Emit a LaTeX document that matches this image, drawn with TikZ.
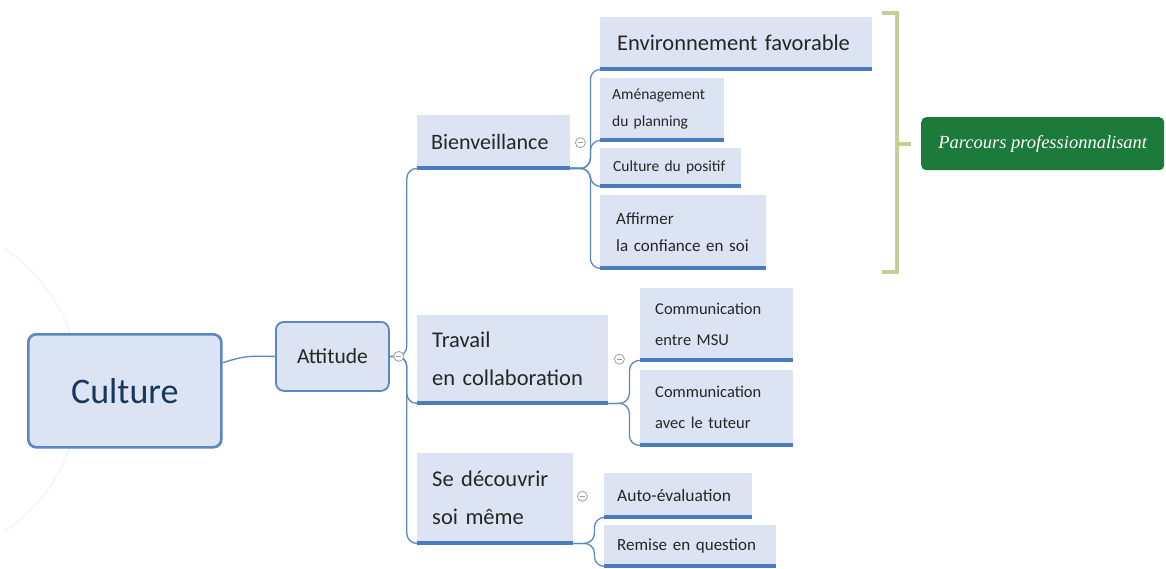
\documentclass[tikz,border=0pt]{standalone}
\usepackage{fontspec}
\setmainfont{Carlito}
\newfontfamily\notefont{Liberation Serif}
\definecolor{nodefill}{HTML}{DCE3F3}
\definecolor{boxedge}{HTML}{5A86C4}
\definecolor{ulblue}{HTML}{4A7CBD}
\definecolor{linkblue}{HTML}{5C88C2}
\definecolor{txt}{HTML}{262626}
\definecolor{titletxt}{HTML}{17375E}
\definecolor{notegreen}{HTML}{1C7A3A}
\definecolor{bracketcol}{HTML}{C6CE94}
\begin{document}
\begin{tikzpicture}[x=1pt,y=-1pt,
  box/.style={draw=boxedge, fill=nodefill, rounded corners=8pt, anchor=north west,
    inner sep=0pt, align=center, text=txt},
  topic/.style n args={3}{fill=nodefill, anchor=north west, inner ysep=0pt,
    inner xsep=#3pt, text width=#1pt-2*#3pt, minimum height=#2pt, align=left, text=txt},
  uline/.style={draw=ulblue, line width=4pt},
  conn/.style={draw=linkblue, line width=1.3pt, rounded corners=10pt},
  toggle/.style={circle, draw=gray!75, line width=0.8pt, minimum size=10pt, inner sep=0pt,
    fill=white, path picture={\draw[gray!75, line width=0.8pt]
      ([xshift=-2.5pt]path picture bounding box.center) -- ([xshift=2.5pt]path picture bounding box.center);}},
  bracket/.style={draw=bracketcol, line width=4.5pt},
  note/.style={fill=notegreen, rounded corners=5pt, anchor=north west, minimum width=243pt,
    minimum height=53pt, inner sep=0pt, text=white, font=\notefont\itshape\fontsize{18.5}{20}\selectfont}
]
\useasboundingbox (0,0) rectangle (1166,569);

% faint halo behind the central topic
\draw[gray!7, line width=2pt] (-90,390) ++(-56:170) arc[start angle=-56, end angle=56, radius=170];

% central topic and main branch
\node[box, line width=2.6pt, minimum width=193pt, minimum height=113pt, text=titletxt,
  font=\fontsize{36}{40}\selectfont] (cul) at (27,333) {Culture};
\node[box, line width=1.8pt, minimum width=113pt, minimum height=69pt,
  font=\fontsize{21.5}{24}\selectfont] (att) at (275,321) {Attitude};
\draw[conn] (cul.16) .. controls +(25,-8) and +(-25,0) .. (att.west);

% second level
\begin{scope}[font=\hyphenpenalty=10000\exhyphenpenalty=10000]
\node[topic={153}{53}{14}, font=\fontsize{22}{26}\selectfont] (bien) at (417,115) {Bienveillance};
\node[topic={191}{88}{15}, font=\fontsize{22.5}{38}\selectfont] (trav) at (417,315) {Travail\\en collaboration};
\node[topic={156}{90}{15}, font=\fontsize{22.5}{38}\selectfont] (se) at (417,453) {Se découvrir\\soi même};

% third level
\node[topic={272}{52}{17}, font=\fontsize{22.5}{26}\selectfont] (env) at (600,17) {Environnement favorable};
\node[topic={124}{62}{12}, font=\fontsize{15.5}{27}\selectfont] (amen) at (600,78) {Aménagement\\du planning};
\node[topic={141}{38}{13}, font=\fontsize{15.5}{18}\selectfont] (cpos) at (600,148) {Culture du positif};
\node[topic={166}{73}{16}, font=\fontsize{17}{27}\selectfont] (aff) at (600,195) {Affirmer\\\mbox{la confiance en soi}};
\node[topic={153}{72}{15}, font=\fontsize{16.5}{31}\selectfont] (cmsu) at (640,288) {Communication\\entre MSU};
\node[topic={153}{75}{15}, font=\fontsize{16.5}{31}\selectfont] (ctut) at (640,370) {Communication\\avec le tuteur};
\node[topic={148}{44}{13}, font=\fontsize{17.5}{20}\selectfont] (auto) at (604,473) {Auto-évaluation};
\node[topic={172}{41}{13}, font=\fontsize{17}{20}\selectfont] (rem) at (604,525) {\mbox{Remise en question}};
\end{scope}

% underlines of the topics
\foreach \n in {bien,trav,se,env,amen,cpos,aff,cmsu,ctut,auto,rem}
  \draw[uline] (\n.south west) -- (\n.south east);

% branch connectors
\foreach \c in {bien,trav,se}
  \draw[conn] (att.east) -- ++(17,0) |- (\c.south west);
\foreach \c in {env,amen,cpos,aff}
  \draw[conn] (bien.south east) -- ++(20,0) |- (\c.south west);
\foreach \c in {cmsu,ctut}
  \draw[conn] (trav.south east) -- ++(21,0) |- (\c.south west);
\foreach \c in {auto,rem}
  \draw[conn] (se.south east) -- ++(21,0) |- (\c.south west);

% collapse toggles
\node[toggle] (tatt) at ([xshift=9pt]att.east) {};
\node[toggle] (tbien) at ([xshift=10pt,yshift=-1pt]bien.east) {};
\node[toggle] (ttrav) at ([xshift=11pt]trav.east) {};
\node[toggle] (tse) at ([xshift=9pt,yshift=2pt]se.east) {};

% boundary bracket and its callout
\coordinate (btop) at (882,13);
\coordinate (bbot) at (882,272);
\coordinate (bmid) at (897,144);
\draw[bracket] (btop) -- (897,13) -- (897,272) -- (bbot);
\node[note] (parc) at (921,117) {Parcours professionnalisant};
\draw[bracket] (bmid) -- ++(14,0);
\end{tikzpicture}
\end{document}
